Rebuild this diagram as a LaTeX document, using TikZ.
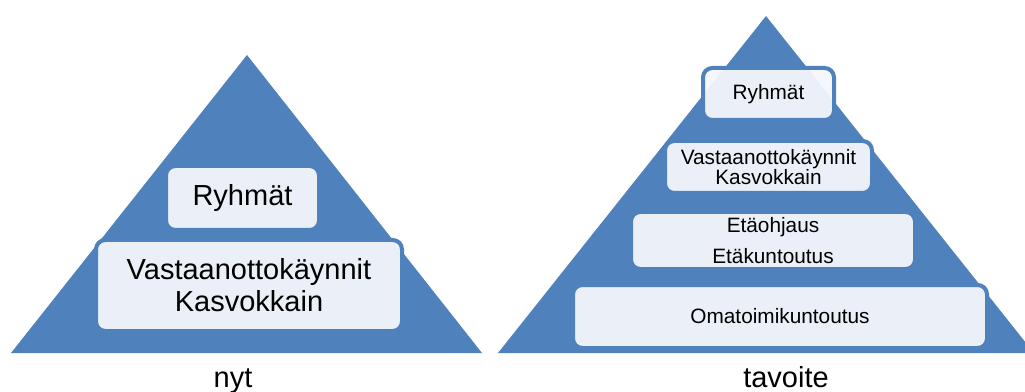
\documentclass[tikz,border=0pt]{standalone}
\usepackage{fontspec}
\setmainfont{Liberation Sans}
\usepackage{xcolor}
\usepackage{tikz}
\usetikzlibrary{positioning, calc}
\definecolor{pyrblue}{RGB}{79,129,189}
\definecolor{pyrlight}{RGB}{245,247,252}

\begin{document}
\begin{tikzpicture}[x=0.75pt, y=-0.75pt,
  pyramid/.style={fill=pyrblue, draw=none},
  level/.style={rectangle, rounded corners=7pt, draw=pyrblue, line width=3pt, fill=pyrlight, fill opacity=0.94, text opacity=1, align=center, inner sep=0pt},
  bigtext/.style={font=\fontsize{21.75}{24}\selectfont},
  smalltext/.style={font=\fontsize{15.6}{15.4}\selectfont},
  caption/.style={font=\fontsize{21.75}{24}\selectfont, anchor=base}
]
\useasboundingbox (0,0) rectangle (1025,392);
\clip (0,0) rectangle (1025,392);
% nyt
\fill[pyramid] (247,55) -- (11,353) -- (482,353) -- cycle;
\node[level, bigtext, minimum width=229.5pt, minimum height=68.25pt] (nvast) at (249,285.5) {Vastaanottokäynnit\\Kasvokkain};
\node[level, bigtext, minimum width=114.75pt, minimum height=48pt] (nryh) at (242.5,198) {Ryhmät};
\node[caption] (nyt) at (233,387) {nyt};
% tavoite
\fill[pyramid] (766,16) -- (498,353) -- (1034,353) -- cycle;
\node[level, smalltext, minimum width=98.25pt, minimum height=39pt] (tryh) at (768.5,94) {Ryhmät};
\node[level, smalltext, minimum width=155.25pt, minimum height=39pt] (tvast) at (768.5,167) {Vastaanottokäynnit\\Kasvokkain};
\node[level, smalltext, minimum width=213pt, minimum height=42.75pt] (teta) at (773,240.5) {Etäohjaus\\[8pt]Etäkuntoutus};
\node[level, smalltext, minimum width=310.5pt, minimum height=47.25pt] (toma) at (780,316.5) {Omatoimikuntoutus};
\node[caption] (tavoite) at (786,387) {tavoite};
\end{tikzpicture}
\end{document}
